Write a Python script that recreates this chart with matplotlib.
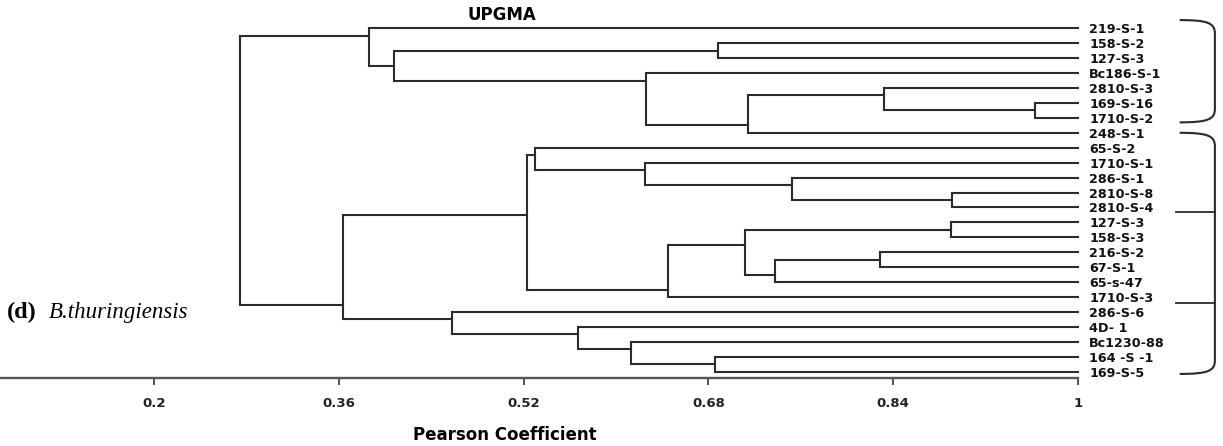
import numpy as np
import matplotlib.pyplot as plt
from matplotlib.path import Path
from matplotlib.patches import PathPatch

# --- Data: leaves top to bottom, merges in order (ids >= 24 are merged nodes) ---
leaf_labels = ["219-S-1", "158-S-2", "127-S-3", "Bc186-S-1", "2810-S-3", "169-S-16",
               "1710-S-2", "248-S-1", "65-S-2", "1710-S-1", "286-S-1", "2810-S-8",
               "2810-S-4", "127-S-3", "158-S-3", "216-S-2", "67-S-1", "65-s-47",
               "1710-S-3", "286-S-6", "4D- 1", "Bc1230-88", "164 -S -1", "169-S-5"]
merge_a = [5, 4, 25, 3, 1, 28, 0, 11, 10, 9, 8, 13, 15, 36, 35, 38, 34, 22, 21, 20, 19, 40, 30]
merge_b = [6, 24, 7, 26, 2, 27, 29, 12, 31, 32, 33, 14, 16, 17, 37, 18, 39, 23, 41, 42, 43, 44, 45]
merge_h = [0.963, 0.832, 0.714, 0.626, 0.688, 0.408, 0.386, 0.891, 0.752, 0.625, 0.530,
           0.890, 0.829, 0.738, 0.712, 0.645, 0.523, 0.686, 0.613, 0.567, 0.458, 0.364, 0.275]
tick_vals = [0.2, 0.36, 0.52, 0.68, 0.84, 1.0]
tick_text = ["0.2", "0.36", "0.52", "0.68", "0.84", "1"]
# cluster brackets on the right: (first, last, inner marks) in leaf units
bracket_spans = [(-0.55, 6.3, []), (7.0, 23.15, [12.3, 18.4])]

line_col = "#2b2b2b"

fig = plt.figure(figsize=(12.23, 4.46), dpi=100)
ax = fig.add_axes([0, 68 / 446, 1078 / 1223, 378 / 446])

n = len(leaf_labels)
node_x = {i: 1.0 for i in range(n)}
node_y = {i: float(i) for i in range(n)}
last_leaf = {i: i for i in range(n)}

# --- Draw the U-links; node sits at the boundary between its two children ---
for k, (a, b, h) in enumerate(zip(merge_a, merge_b, merge_h)):
    nid = n + k
    ax.plot([node_x[a], h, h, node_x[b]], [node_y[a], node_y[a], node_y[b], node_y[b]],
            color=line_col, lw=1.5, solid_joinstyle="miter", clip_on=False)
    node_x[nid] = h
    node_y[nid] = last_leaf[a] + 0.5
    last_leaf[nid] = last_leaf[b]

ax.set_xlim(0.2 - 154 / 1156.25, 1.0)
ax.set_ylim((378 - 28.3) / 14.93, -28.3 / 14.93)

for s in ["left", "top", "right"]:
    ax.spines[s].set_visible(False)
ax.spines["bottom"].set_color("#555555")
ax.spines["bottom"].set_linewidth(1.7)

ax.set_xticks(tick_vals)
ax.set_xticklabels(tick_text, fontsize=9.5, fontweight="bold", color="#222222")
ax.tick_params(axis="x", direction="out", length=5, width=1.3, color="#444444", pad=9)

ax.yaxis.tick_right()
ax.set_yticks(range(n))
ax.set_yticklabels(leaf_labels, fontsize=9.2, fontweight="bold", color="#111111")
ax.tick_params(axis="y", length=0, pad=8)

ax.set_xlabel("Pearson Coefficient", fontsize=12, fontweight="bold", va="center")
ax.xaxis.set_label_coords(505 / 1078, -57 / 378)

ax.text(502 / 1078, 1 - 15 / 378, "UPGMA", transform=ax.transAxes,
        ha="center", va="center", fontsize=12, fontweight="bold")

# --- Brackets ---
xl, xr = 1.088, 1.1185
for y0, y1, marks in bracket_spans:
    verts = [(xl, y0), (xr - 0.006, y0), (xr, y0 + 0.2), (xr, y0 + 0.9),
             (xr, y1 - 0.9),
             (xr, y1 - 0.2), (xr - 0.006, y1), (xl, y1)]
    codes = [Path.MOVETO, Path.CURVE4, Path.CURVE4, Path.CURVE4,
             Path.LINETO,
             Path.CURVE4, Path.CURVE4, Path.CURVE4]
    ax.add_patch(PathPatch(Path(verts, codes), fill=False, ec=line_col, lw=1.5, clip_on=False))
    for m in marks:
        ax.plot([1.0848, xr], [m, m], color=line_col, lw=1.3, clip_on=False)

# --- Panel label ---
fig.text(7 / 1223, 1 - 318 / 446, "(d)", fontsize=17.5, fontweight="bold",
         family="Liberation Serif", va="baseline")
fig.text(49 / 1223, 1 - 318 / 446, "B.thuringiensis", fontsize=16.5, style="italic",
         family="Liberation Serif", va="baseline")

fig.savefig("out.png", dpi=100)
